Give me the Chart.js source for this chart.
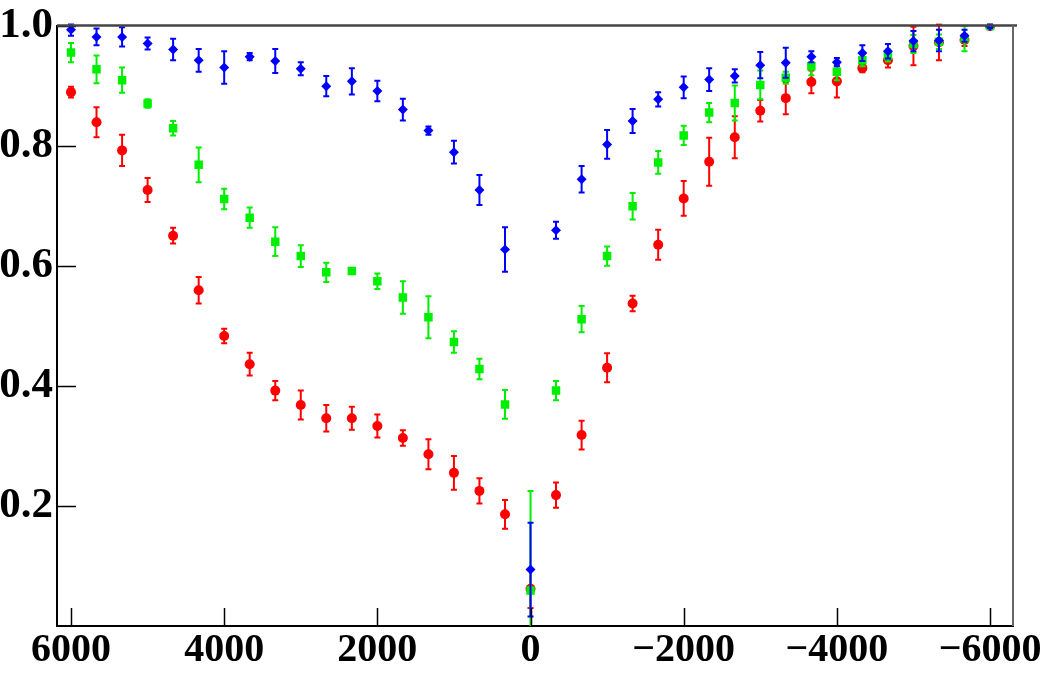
<!DOCTYPE html>
<html>
<head>
<meta charset="utf-8">
<script src="https://cdn.jsdelivr.net/npm/chart.js@4"></script>
<style>
  html, body { margin: 0; padding: 0; background: #fff; }
  #wrap { width: 1050px; height: 678px; }
</style>
</head>
<body>
<div id="wrap"><canvas id="chart" width="1050" height="678"></canvas></div>
<script>
// x positions of the measurements
const xValues = [6000, 5667, 5333, 5000, 4667, 4333, 4000, 3667, 3333, 3000, 2667, 2333, 2000,
  1667, 1333, 1000, 667, 333, 0, -333, -667, -1000, -1333, -1667, -2000, -2333, -2667,
  -3000, -3333, -3667, -4000, -4333, -4667, -5000, -5333, -5667, -6000];

// blue diamonds
const blueY = [0.993, 0.981, 0.981, 0.970, 0.960, 0.942, 0.930, 0.948, 0.941, 0.928, 0.899, 0.907, 0.891,
  0.860, 0.825, 0.789, 0.726, 0.627, 0.094, 0.659, 0.744, 0.802, 0.841, 0.877, 0.897, 0.910, 0.916,
  0.934, 0.938, 0.948, 0.939, 0.954, 0.957, 0.974, 0.975, 0.983, 0.999];
const blueErr = [0.010, 0.014, 0.016, 0.010, 0.018, 0.019, 0.027, 0.006, 0.020, 0.011, 0.017, 0.022, 0.017,
  0.018, 0.007, 0.019, 0.025, 0.037, 0.078, 0.014, 0.022, 0.024, 0.020, 0.012, 0.018, 0.019, 0.011,
  0.022, 0.025, 0.009, 0.007, 0.013, 0.012, 0.017, 0.018, 0.010, 0.003];

// green squares
const greenY = [0.955, 0.927, 0.909, 0.870, 0.829, 0.768, 0.711, 0.680, 0.640, 0.616, 0.589, 0.591, 0.574,
  0.547, 0.514, 0.473, 0.428, 0.369, 0.059, 0.392, 0.511, 0.616, 0.699, 0.772, 0.817, 0.855, 0.871,
  0.901, 0.913, 0.932, 0.923, 0.942, 0.950, 0.969, 0.973, 0.978, 0.999];
const greenErr = [0.016, 0.023, 0.021, 0.007, 0.012, 0.029, 0.017, 0.017, 0.024, 0.018, 0.016, 0.005, 0.013,
  0.027, 0.035, 0.018, 0.017, 0.024, 0.166, 0.016, 0.022, 0.016, 0.022, 0.019, 0.016, 0.016, 0.029,
  0.024, 0.010, 0.015, 0.014, 0.010, 0.010, 0.015, 0.012, 0.021, 0.003];

// red circles
const redY = [0.889, 0.839, 0.792, 0.726, 0.650, 0.559, 0.483, 0.436, 0.392, 0.368, 0.346, 0.346, 0.333,
  0.313, 0.286, 0.255, 0.225, 0.186, 0.062, 0.218, 0.318, 0.430, 0.537, 0.635, 0.712, 0.773, 0.814,
  0.858, 0.879, 0.906, 0.907, 0.929, 0.942, 0.966, 0.972, 0.976, 0.999];
const redErr = [0.009, 0.025, 0.026, 0.020, 0.013, 0.022, 0.012, 0.019, 0.016, 0.024, 0.022, 0.019, 0.019,
  0.013, 0.025, 0.028, 0.021, 0.024, 0.032, 0.021, 0.024, 0.024, 0.013, 0.025, 0.029, 0.040, 0.035,
  0.018, 0.027, 0.019, 0.027, 0.007, 0.012, 0.032, 0.030, 0.010, 0.003];

// tick labels
const xTicks = [6000, 4000, 2000, 0, -2000, -4000, -6000];
const yTicks = [0.2, 0.4, 0.6, 0.8, 1.0];

const serif = "'Liberation Serif', 'Times New Roman', serif";

const toPoints = (ys) => ys.map((y, i) => ({ x: xValues[i], y: y }));

// draws vertical error bars under each dataset's markers
const errorBars = {
  id: "errorBars",
  beforeDatasetDraw(chart, args) {
    const ds = chart.data.datasets[args.index];
    if (!ds.errors) return;
    const { ctx, chartArea, scales } = chart;
    ctx.save();
    ctx.beginPath();
    ctx.rect(chartArea.left, chartArea.top - 2, chartArea.right - chartArea.left, chartArea.bottom - chartArea.top + 2);
    ctx.clip();
    ctx.strokeStyle = ds.borderColor;
    ctx.lineWidth = 2;
    ds.data.forEach((p, i) => {
      const e = ds.errors[i];
      const px = scales.x.getPixelForValue(p.x);
      const yTop = scales.y.getPixelForValue(p.y + e);
      const yBot = scales.y.getPixelForValue(p.y - e);
      ctx.beginPath();
      ctx.moveTo(px, yTop);
      ctx.lineTo(px, yBot);
      ctx.moveTo(px - 3, yTop);
      ctx.lineTo(px + 3, yTop);
      ctx.moveTo(px - 3, yBot);
      ctx.lineTo(px + 3, yBot);
      ctx.stroke();
    });
    ctx.restore();
  },
};

// inward tick marks plus the top and right frame lines
const frame = {
  id: "frame",
  afterDraw(chart) {
    const { ctx, chartArea, scales } = chart;
    ctx.save();
    ctx.strokeStyle = "#000";
    ctx.lineWidth = 1.5;
    xTicks.forEach((v) => {
      const px = Math.round(scales.x.getPixelForValue(v)) + 0.5;
      ctx.beginPath();
      ctx.moveTo(px, chartArea.bottom);
      ctx.lineTo(px, chartArea.bottom - 18);
      ctx.stroke();
    });
    yTicks.forEach((v) => {
      const py = Math.round(scales.y.getPixelForValue(v)) + 0.5;
      ctx.beginPath();
      ctx.moveTo(chartArea.left, py);
      ctx.lineTo(chartArea.left + 19, py);
      ctx.stroke();
    });
    ctx.strokeStyle = "#444";
    ctx.lineWidth = 2.5;
    ctx.beginPath();
    ctx.moveTo(chartArea.left, chartArea.top);
    ctx.lineTo(chartArea.right + 4, chartArea.top);
    ctx.stroke();
    ctx.strokeStyle = "#666";
    ctx.lineWidth = 2;
    ctx.beginPath();
    ctx.moveTo(chartArea.right, chartArea.top);
    ctx.lineTo(chartArea.right, chartArea.bottom);
    ctx.stroke();
    ctx.restore();
  },
};

const ctx = document.getElementById("chart").getContext("2d");
new Chart(ctx, {
  type: "scatter",
  data: {
    datasets: [
      {
        label: "blue",
        data: toPoints(blueY),
        errors: blueErr,
        borderColor: "#0000ff",
        backgroundColor: "#0000ff",
        pointStyle: "rectRot",
        pointRadius: 5,
        borderWidth: 0,
      },
      {
        label: "green",
        data: toPoints(greenY),
        errors: greenErr,
        borderColor: "#00ee00",
        backgroundColor: "#00ee00",
        pointStyle: "rect",
        pointRadius: 6,
        borderWidth: 0,
      },
      {
        label: "red",
        data: toPoints(redY),
        errors: redErr,
        borderColor: "#ff0000",
        backgroundColor: "#ff0000",
        pointStyle: "circle",
        pointRadius: 5,
        borderWidth: 0,
      },
    ],
  },
  options: {
    responsive: false,
    animation: false,
    layout: { padding: { top: 24, right: 37, left: 0, bottom: 0 } },
    plugins: { legend: { display: false }, tooltip: { enabled: false } },
    scales: {
      x: {
        type: "linear",
        reverse: true,
        min: -6300,
        max: 6183,
        afterBuildTicks: (s) => { s.ticks = xTicks.map((v) => ({ value: v })); },
        afterFit: (s) => { s.height = 52; },
        grid: { display: false, drawTicks: false },
        border: { display: true, color: "#000", width: 2 },
        ticks: {
          color: "#000",
          padding: 5,
          maxRotation: 0,
          autoSkip: false,
          font: { family: serif, weight: "bold", size: 40, lineHeight: 1 },
          callback: (v) => (v < 0 ? "\u2212" + Math.abs(v) : String(v)),
        },
      },
      y: {
        type: "linear",
        min: 0,
        max: 1.0,
        afterBuildTicks: (s) => { s.ticks = yTicks.map((v) => ({ value: v })); },
        afterFit: (s) => { s.width = 57; },
        grid: { display: false, drawTicks: false },
        border: { display: true, color: "#000", width: 2 },
        ticks: {
          color: "#000",
          padding: 4,
          autoSkip: false,
          font: { family: serif, weight: "bold", size: 43, lineHeight: 1 },
          callback: (v) => v.toFixed(1),
        },
      },
    },
  },
  plugins: [errorBars, frame],
});
</script>
</body>
</html>
